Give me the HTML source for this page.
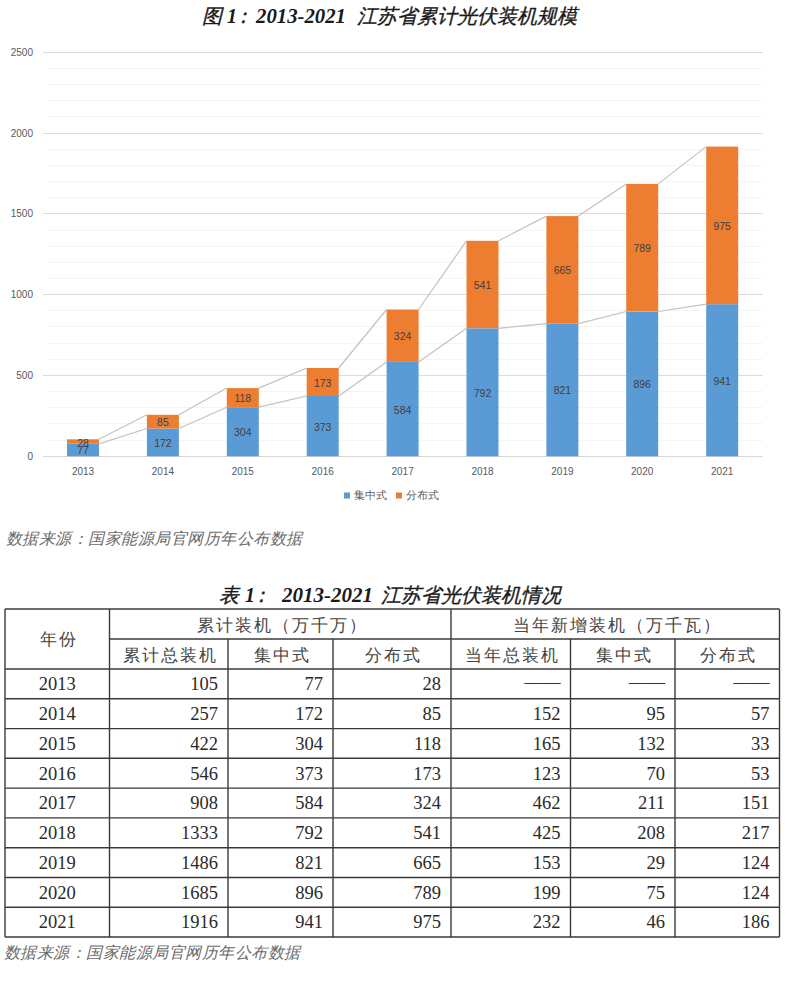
<!DOCTYPE html>
<html><head><meta charset="utf-8"><style>
html,body{margin:0;padding:0;background:#fff;width:800px;height:987px;overflow:hidden}
svg{display:block}
.ax{font-family:"Liberation Sans",sans-serif;font-size:10px;fill:#595959}
.dl{font-family:"Liberation Sans",sans-serif;font-size:10.5px;fill:#404040}
.lg{font-family:"Liberation Sans",sans-serif;font-size:11px;fill:#595959}
.tt{font-family:"Liberation Serif",serif;font-size:20px;font-weight:normal;font-style:italic;fill:#1a1a1a;stroke:#1a1a1a;stroke-width:0.35px}
.src{font-family:"Liberation Serif",serif;font-size:16px;letter-spacing:0.5px;font-style:italic;fill:#6a6a6a}
.th{font-family:"Liberation Serif",serif;font-size:16.5px;fill:#444;letter-spacing:2px}
.td{font-family:"Liberation Serif",serif;font-size:18.5px;fill:#2a2a2a}
.dash{font-family:"Liberation Serif",serif;font-size:18px;fill:#333}
</style></head><body>
<svg width="800" height="987" viewBox="0 0 800 987">
<line x1="47" y1="440.5" x2="763" y2="440.5" stroke="#f5f5f5" stroke-width="1"/>
<line x1="47" y1="423.5" x2="763" y2="423.5" stroke="#f5f5f5" stroke-width="1"/>
<line x1="47" y1="407.5" x2="763" y2="407.5" stroke="#f5f5f5" stroke-width="1"/>
<line x1="47" y1="391.5" x2="763" y2="391.5" stroke="#f5f5f5" stroke-width="1"/>
<line x1="43" y1="375.5" x2="763" y2="375.5" stroke="#dcdcdc" stroke-width="1"/>
<line x1="47" y1="359.5" x2="763" y2="359.5" stroke="#f5f5f5" stroke-width="1"/>
<line x1="47" y1="343.5" x2="763" y2="343.5" stroke="#f5f5f5" stroke-width="1"/>
<line x1="47" y1="326.5" x2="763" y2="326.5" stroke="#f5f5f5" stroke-width="1"/>
<line x1="47" y1="310.5" x2="763" y2="310.5" stroke="#f5f5f5" stroke-width="1"/>
<line x1="43" y1="294.5" x2="763" y2="294.5" stroke="#dcdcdc" stroke-width="1"/>
<line x1="47" y1="278.5" x2="763" y2="278.5" stroke="#f5f5f5" stroke-width="1"/>
<line x1="47" y1="262.5" x2="763" y2="262.5" stroke="#f5f5f5" stroke-width="1"/>
<line x1="47" y1="246.5" x2="763" y2="246.5" stroke="#f5f5f5" stroke-width="1"/>
<line x1="47" y1="230.5" x2="763" y2="230.5" stroke="#f5f5f5" stroke-width="1"/>
<line x1="43" y1="213.5" x2="763" y2="213.5" stroke="#dcdcdc" stroke-width="1"/>
<line x1="47" y1="197.5" x2="763" y2="197.5" stroke="#f5f5f5" stroke-width="1"/>
<line x1="47" y1="181.5" x2="763" y2="181.5" stroke="#f5f5f5" stroke-width="1"/>
<line x1="47" y1="165.5" x2="763" y2="165.5" stroke="#f5f5f5" stroke-width="1"/>
<line x1="47" y1="149.5" x2="763" y2="149.5" stroke="#f5f5f5" stroke-width="1"/>
<line x1="43" y1="133.5" x2="763" y2="133.5" stroke="#dcdcdc" stroke-width="1"/>
<line x1="47" y1="116.5" x2="763" y2="116.5" stroke="#f5f5f5" stroke-width="1"/>
<line x1="47" y1="100.5" x2="763" y2="100.5" stroke="#f5f5f5" stroke-width="1"/>
<line x1="47" y1="84.5" x2="763" y2="84.5" stroke="#f5f5f5" stroke-width="1"/>
<line x1="47" y1="68.5" x2="763" y2="68.5" stroke="#f5f5f5" stroke-width="1"/>
<line x1="43" y1="52.5" x2="763" y2="52.5" stroke="#dcdcdc" stroke-width="1"/>
<line x1="43" y1="456.5" x2="763" y2="456.5" stroke="#d9d9d9" stroke-width="1"/>
<text x="33" y="459.8" text-anchor="end" class="ax">0</text>
<text x="33" y="379.0" text-anchor="end" class="ax">500</text>
<text x="33" y="298.2" text-anchor="end" class="ax">1000</text>
<text x="33" y="217.3" text-anchor="end" class="ax">1500</text>
<text x="33" y="136.5" text-anchor="end" class="ax">2000</text>
<text x="33" y="55.7" text-anchor="end" class="ax">2500</text>
<line x1="99.0" y1="443.9" x2="146.9" y2="428.5" stroke="#c2c2c2" stroke-width="1.2"/>
<line x1="99.0" y1="439.3" x2="146.9" y2="414.8" stroke="#c2c2c2" stroke-width="1.2"/>
<line x1="178.9" y1="428.5" x2="226.8" y2="407.2" stroke="#c2c2c2" stroke-width="1.2"/>
<line x1="178.9" y1="414.8" x2="226.8" y2="388.1" stroke="#c2c2c2" stroke-width="1.2"/>
<line x1="258.8" y1="407.2" x2="306.7" y2="396.0" stroke="#c2c2c2" stroke-width="1.2"/>
<line x1="258.8" y1="388.1" x2="306.7" y2="368.0" stroke="#c2c2c2" stroke-width="1.2"/>
<line x1="338.7" y1="396.0" x2="386.6" y2="361.9" stroke="#c2c2c2" stroke-width="1.2"/>
<line x1="338.7" y1="368.0" x2="386.6" y2="309.5" stroke="#c2c2c2" stroke-width="1.2"/>
<line x1="418.6" y1="361.9" x2="466.5" y2="328.3" stroke="#c2c2c2" stroke-width="1.2"/>
<line x1="418.6" y1="309.5" x2="466.5" y2="240.8" stroke="#c2c2c2" stroke-width="1.2"/>
<line x1="498.5" y1="328.3" x2="546.4" y2="323.6" stroke="#c2c2c2" stroke-width="1.2"/>
<line x1="498.5" y1="240.8" x2="546.4" y2="216.1" stroke="#c2c2c2" stroke-width="1.2"/>
<line x1="578.4" y1="323.6" x2="626.2" y2="311.5" stroke="#c2c2c2" stroke-width="1.2"/>
<line x1="578.4" y1="216.1" x2="626.2" y2="183.9" stroke="#c2c2c2" stroke-width="1.2"/>
<line x1="658.2" y1="311.5" x2="706.2" y2="304.2" stroke="#c2c2c2" stroke-width="1.2"/>
<line x1="658.2" y1="183.9" x2="706.2" y2="146.6" stroke="#c2c2c2" stroke-width="1.2"/>
<rect x="67.0" y="443.9" width="32.0" height="12.4" fill="#5b9bd5"/>
<rect x="67.0" y="439.3" width="32.0" height="4.5" fill="#ed7d31"/>
<rect x="146.9" y="428.5" width="32.0" height="27.8" fill="#5b9bd5"/>
<rect x="146.9" y="414.8" width="32.0" height="13.7" fill="#ed7d31"/>
<rect x="226.8" y="407.2" width="32.0" height="49.1" fill="#5b9bd5"/>
<rect x="226.8" y="388.1" width="32.0" height="19.1" fill="#ed7d31"/>
<rect x="306.7" y="396.0" width="32.0" height="60.3" fill="#5b9bd5"/>
<rect x="306.7" y="368.0" width="32.0" height="28.0" fill="#ed7d31"/>
<rect x="386.6" y="361.9" width="32.0" height="94.4" fill="#5b9bd5"/>
<rect x="386.6" y="309.5" width="32.0" height="52.4" fill="#ed7d31"/>
<rect x="466.5" y="328.3" width="32.0" height="128.0" fill="#5b9bd5"/>
<rect x="466.5" y="240.8" width="32.0" height="87.4" fill="#ed7d31"/>
<rect x="546.4" y="323.6" width="32.0" height="132.7" fill="#5b9bd5"/>
<rect x="546.4" y="216.1" width="32.0" height="107.5" fill="#ed7d31"/>
<rect x="626.2" y="311.5" width="32.0" height="144.8" fill="#5b9bd5"/>
<rect x="626.2" y="183.9" width="32.0" height="127.5" fill="#ed7d31"/>
<rect x="706.2" y="304.2" width="32.0" height="152.1" fill="#5b9bd5"/>
<rect x="706.2" y="146.6" width="32.0" height="157.6" fill="#ed7d31"/>
<text x="83.0" y="454.4" text-anchor="middle" class="dl">77</text>
<text x="83.0" y="446.8" text-anchor="middle" class="dl">28</text>
<text x="83.0" y="474.5" text-anchor="middle" class="ax">2013</text>
<text x="162.9" y="446.9" text-anchor="middle" class="dl">172</text>
<text x="162.9" y="426.1" text-anchor="middle" class="dl">85</text>
<text x="162.9" y="474.5" text-anchor="middle" class="ax">2014</text>
<text x="242.8" y="436.2" text-anchor="middle" class="dl">304</text>
<text x="242.8" y="402.1" text-anchor="middle" class="dl">118</text>
<text x="242.8" y="474.5" text-anchor="middle" class="ax">2015</text>
<text x="322.7" y="430.7" text-anchor="middle" class="dl">373</text>
<text x="322.7" y="386.5" text-anchor="middle" class="dl">173</text>
<text x="322.7" y="474.5" text-anchor="middle" class="ax">2016</text>
<text x="402.6" y="413.6" text-anchor="middle" class="dl">584</text>
<text x="402.6" y="340.2" text-anchor="middle" class="dl">324</text>
<text x="402.6" y="474.5" text-anchor="middle" class="ax">2017</text>
<text x="482.5" y="396.8" text-anchor="middle" class="dl">792</text>
<text x="482.5" y="289.1" text-anchor="middle" class="dl">541</text>
<text x="482.5" y="474.5" text-anchor="middle" class="ax">2018</text>
<text x="562.4" y="394.4" text-anchor="middle" class="dl">821</text>
<text x="562.4" y="274.3" text-anchor="middle" class="dl">665</text>
<text x="562.4" y="474.5" text-anchor="middle" class="ax">2019</text>
<text x="642.2" y="388.4" text-anchor="middle" class="dl">896</text>
<text x="642.2" y="252.2" text-anchor="middle" class="dl">789</text>
<text x="642.2" y="474.5" text-anchor="middle" class="ax">2020</text>
<text x="722.2" y="384.7" text-anchor="middle" class="dl">941</text>
<text x="722.2" y="229.9" text-anchor="middle" class="dl">975</text>
<text x="722.2" y="474.5" text-anchor="middle" class="ax">2021</text>
<rect x="344" y="492.5" width="6" height="6" fill="#5b9bd5"/>
<text x="354" y="499" class="lg">集中式</text>
<rect x="396" y="492.5" width="6" height="6" fill="#ed7d31"/>
<text x="405.5" y="499" class="lg">分布式</text>
<text y="23" class="tt"><tspan x="202">图</tspan><tspan x="227" style="font-weight:bold;stroke-width:0">1</tspan><tspan x="233">：</tspan></text>
<text x="256" y="23" class="tt" style="font-weight:bold;stroke-width:0" textLength="90" lengthAdjust="spacingAndGlyphs">2013-2021</text>
<text x="357" y="23" class="tt">江苏省累计光伏装机规模</text>
<text x="5.5" y="543.5" class="src">数据来源：国家能源局官网历年公布数据</text>
<text x="3.5" y="958" class="src">数据来源：国家能源局官网历年公布数据</text>
<text y="602" class="tt"><tspan x="219">表</tspan><tspan x="245" style="font-weight:bold;stroke-width:0">1</tspan><tspan x="251">：</tspan></text>
<text x="282" y="602" class="tt" style="font-weight:bold;stroke-width:0" textLength="91" lengthAdjust="spacingAndGlyphs">2013-2021</text>
<text x="381" y="602" class="tt">江苏省光伏装机情况</text>
<line x1="5" y1="609" x2="779.5" y2="609" stroke="#3a3a3a" stroke-width="1.4"/>
<line x1="109.5" y1="639" x2="779.5" y2="639" stroke="#3a3a3a" stroke-width="1.4"/>
<line x1="5" y1="669.0" x2="779.5" y2="669.0" stroke="#3a3a3a" stroke-width="1.4"/>
<line x1="5" y1="698.8" x2="779.5" y2="698.8" stroke="#3a3a3a" stroke-width="1.4"/>
<line x1="5" y1="728.6" x2="779.5" y2="728.6" stroke="#3a3a3a" stroke-width="1.4"/>
<line x1="5" y1="758.3" x2="779.5" y2="758.3" stroke="#3a3a3a" stroke-width="1.4"/>
<line x1="5" y1="788.1" x2="779.5" y2="788.1" stroke="#3a3a3a" stroke-width="1.4"/>
<line x1="5" y1="817.9" x2="779.5" y2="817.9" stroke="#3a3a3a" stroke-width="1.4"/>
<line x1="5" y1="847.7" x2="779.5" y2="847.7" stroke="#3a3a3a" stroke-width="1.4"/>
<line x1="5" y1="877.5" x2="779.5" y2="877.5" stroke="#3a3a3a" stroke-width="1.4"/>
<line x1="5" y1="907.2" x2="779.5" y2="907.2" stroke="#3a3a3a" stroke-width="1.4"/>
<line x1="5" y1="937.0" x2="779.5" y2="937.0" stroke="#3a3a3a" stroke-width="1.4"/>
<line x1="5" y1="609" x2="5" y2="937.0" stroke="#3a3a3a" stroke-width="1.4"/>
<line x1="109.5" y1="609" x2="109.5" y2="937.0" stroke="#3a3a3a" stroke-width="1.4"/>
<line x1="228" y1="639" x2="228" y2="937.0" stroke="#3a3a3a" stroke-width="1.4"/>
<line x1="333" y1="639" x2="333" y2="937.0" stroke="#3a3a3a" stroke-width="1.4"/>
<line x1="451" y1="609" x2="451" y2="937.0" stroke="#3a3a3a" stroke-width="1.4"/>
<line x1="570.5" y1="639" x2="570.5" y2="937.0" stroke="#3a3a3a" stroke-width="1.4"/>
<line x1="675" y1="639" x2="675" y2="937.0" stroke="#3a3a3a" stroke-width="1.4"/>
<line x1="779.5" y1="609" x2="779.5" y2="937.0" stroke="#3a3a3a" stroke-width="1.4"/>
<text x="58.75" y="645" text-anchor="middle" class="th">年份</text>
<text x="282.25" y="630.5" text-anchor="middle" class="th">累计装机（万千万）</text>
<text x="617.25" y="630.5" text-anchor="middle" class="th">当年新增装机（万千瓦）</text>
<text x="170.25" y="660.5" text-anchor="middle" class="th">累计总装机</text>
<text x="282.0" y="660.5" text-anchor="middle" class="th">集中式</text>
<text x="393.5" y="660.5" text-anchor="middle" class="th">分布式</text>
<text x="512.25" y="660.5" text-anchor="middle" class="th">当年总装机</text>
<text x="624.25" y="660.5" text-anchor="middle" class="th">集中式</text>
<text x="728.75" y="660.5" text-anchor="middle" class="th">分布式</text>
<text x="57.25" y="690.2" text-anchor="middle" class="td">2013</text>
<text x="218" y="690.2" text-anchor="end" class="td">105</text>
<text x="323" y="690.2" text-anchor="end" class="td">77</text>
<text x="441" y="690.2" text-anchor="end" class="td">28</text>
<text x="560.5" y="688.2" text-anchor="end" class="dash">——</text>
<text x="665" y="688.2" text-anchor="end" class="dash">——</text>
<text x="769.5" y="688.2" text-anchor="end" class="dash">——</text>
<text x="57.25" y="720.0" text-anchor="middle" class="td">2014</text>
<text x="218" y="720.0" text-anchor="end" class="td">257</text>
<text x="323" y="720.0" text-anchor="end" class="td">172</text>
<text x="441" y="720.0" text-anchor="end" class="td">85</text>
<text x="560.5" y="720.0" text-anchor="end" class="td">152</text>
<text x="665" y="720.0" text-anchor="end" class="td">95</text>
<text x="769.5" y="720.0" text-anchor="end" class="td">57</text>
<text x="57.25" y="749.8" text-anchor="middle" class="td">2015</text>
<text x="218" y="749.8" text-anchor="end" class="td">422</text>
<text x="323" y="749.8" text-anchor="end" class="td">304</text>
<text x="441" y="749.8" text-anchor="end" class="td">118</text>
<text x="560.5" y="749.8" text-anchor="end" class="td">165</text>
<text x="665" y="749.8" text-anchor="end" class="td">132</text>
<text x="769.5" y="749.8" text-anchor="end" class="td">33</text>
<text x="57.25" y="779.5" text-anchor="middle" class="td">2016</text>
<text x="218" y="779.5" text-anchor="end" class="td">546</text>
<text x="323" y="779.5" text-anchor="end" class="td">373</text>
<text x="441" y="779.5" text-anchor="end" class="td">173</text>
<text x="560.5" y="779.5" text-anchor="end" class="td">123</text>
<text x="665" y="779.5" text-anchor="end" class="td">70</text>
<text x="769.5" y="779.5" text-anchor="end" class="td">53</text>
<text x="57.25" y="809.3" text-anchor="middle" class="td">2017</text>
<text x="218" y="809.3" text-anchor="end" class="td">908</text>
<text x="323" y="809.3" text-anchor="end" class="td">584</text>
<text x="441" y="809.3" text-anchor="end" class="td">324</text>
<text x="560.5" y="809.3" text-anchor="end" class="td">462</text>
<text x="665" y="809.3" text-anchor="end" class="td">211</text>
<text x="769.5" y="809.3" text-anchor="end" class="td">151</text>
<text x="57.25" y="839.1" text-anchor="middle" class="td">2018</text>
<text x="218" y="839.1" text-anchor="end" class="td">1333</text>
<text x="323" y="839.1" text-anchor="end" class="td">792</text>
<text x="441" y="839.1" text-anchor="end" class="td">541</text>
<text x="560.5" y="839.1" text-anchor="end" class="td">425</text>
<text x="665" y="839.1" text-anchor="end" class="td">208</text>
<text x="769.5" y="839.1" text-anchor="end" class="td">217</text>
<text x="57.25" y="868.9" text-anchor="middle" class="td">2019</text>
<text x="218" y="868.9" text-anchor="end" class="td">1486</text>
<text x="323" y="868.9" text-anchor="end" class="td">821</text>
<text x="441" y="868.9" text-anchor="end" class="td">665</text>
<text x="560.5" y="868.9" text-anchor="end" class="td">153</text>
<text x="665" y="868.9" text-anchor="end" class="td">29</text>
<text x="769.5" y="868.9" text-anchor="end" class="td">124</text>
<text x="57.25" y="898.6" text-anchor="middle" class="td">2020</text>
<text x="218" y="898.6" text-anchor="end" class="td">1685</text>
<text x="323" y="898.6" text-anchor="end" class="td">896</text>
<text x="441" y="898.6" text-anchor="end" class="td">789</text>
<text x="560.5" y="898.6" text-anchor="end" class="td">199</text>
<text x="665" y="898.6" text-anchor="end" class="td">75</text>
<text x="769.5" y="898.6" text-anchor="end" class="td">124</text>
<text x="57.25" y="928.4" text-anchor="middle" class="td">2021</text>
<text x="218" y="928.4" text-anchor="end" class="td">1916</text>
<text x="323" y="928.4" text-anchor="end" class="td">941</text>
<text x="441" y="928.4" text-anchor="end" class="td">975</text>
<text x="560.5" y="928.4" text-anchor="end" class="td">232</text>
<text x="665" y="928.4" text-anchor="end" class="td">46</text>
<text x="769.5" y="928.4" text-anchor="end" class="td">186</text>
</svg>
</body></html>
